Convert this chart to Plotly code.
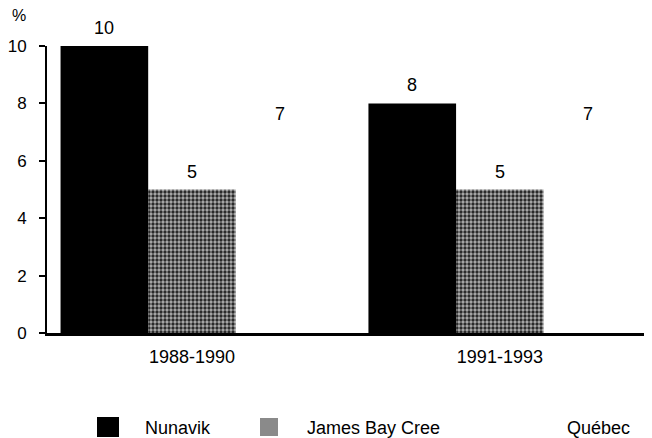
import plotly.graph_objects as go

periods = ["1988-1990", "1991-1993"]
nunavik = [10, 8]
james_bay_cree = [5, 5]
quebec = [7, 7]
y_ticks = [0, 2, 4, 6, 8, 10]

FONT = "Liberation Sans, Arial, sans-serif"
FS = 18

# page offset (default body margin of the html page)
OFF = 8
W, H = 652, 438
L, R, T, B = 39, 8, 38, 113
pw, ph = W - L - R, H - T - B


def px(x):  # page pixel -> paper x
    return (x - OFF - L) / pw


def py(y):  # page pixel -> paper y
    return (H - B - (y - OFF)) / ph


BARGAP = 0.146
series = [
    ("Nunavik", nunavik, dict(color="black", line=dict(width=0))),
    ("James Bay Cree", james_bay_cree,
     dict(color="#2a2a2a", line=dict(width=0),
          pattern=dict(shape=".", bgcolor="#b0b0b0", fgcolor="#2a2a2a",
                       size=4, solidity=0.55, fillmode="replace"))),
    ("Québec", quebec, dict(color="white", line=dict(width=0))),
]

fig = go.Figure()
n = len(series)
bw = (1 - BARGAP) / n
annotations = []
for i, (name, vals, marker) in enumerate(series):
    fig.add_bar(x=periods, y=vals, name=name, marker=marker)
    for j, v in enumerate(vals):
        annotations.append(dict(
            x=j + (i - (n - 1) / 2) * bw, y=v, xref="x", yref="y",
            text=str(v), showarrow=False, yanchor="bottom", yshift=6,
            font=dict(family=FONT, size=FS, color="black")))

shapes = [
    dict(type="rect", xref="paper", yref="paper",
         x0=px(97), x1=px(119), y0=py(437), y1=py(417),
         fillcolor="black", line=dict(width=0)),
    dict(type="rect", xref="paper", yref="paper",
         x0=px(260), x1=px(278), y0=py(436), y1=py(418),
         fillcolor="#8a8a8a", line=dict(width=0)),
]
annotations += [
    dict(text="%", xref="paper", yref="paper", x=px(19), y=py(16),
         xanchor="center", yanchor="middle",
         showarrow=False, font=dict(family=FONT, size=16, color="black")),
    dict(text="Nunavik", xref="paper", yref="paper", x=px(143), y=py(428),
         xanchor="left", yanchor="middle",
         showarrow=False, font=dict(family=FONT, size=FS, color="black")),
    dict(text="James Bay Cree", xref="paper", yref="paper", x=px(305), y=py(428),
         xanchor="left", yanchor="middle",
         showarrow=False, font=dict(family=FONT, size=FS, color="black")),
    dict(text="Québec", xref="paper", yref="paper", x=px(565), y=py(428),
         xanchor="left", yanchor="middle",
         showarrow=False, font=dict(family=FONT, size=FS, color="black")),
]

fig.update_layout(
    width=W, height=H,
    margin=dict(l=L, r=R, t=T, b=B, autoexpand=False),
    paper_bgcolor="white", plot_bgcolor="white",
    barmode="group", bargap=BARGAP, bargroupgap=0,
    showlegend=False,
    font=dict(family=FONT, size=FS, color="black"),
    shapes=shapes, annotations=annotations,
    xaxis=dict(range=[-0.471, 1.494], showgrid=False, zeroline=False,
               showline=True, linecolor="black", linewidth=3,
               ticks="", ticklabelstandoff=5, automargin=False,
               tickfont=dict(family=FONT, size=FS, color="black")),
    yaxis=dict(range=[0, 10], tickvals=y_ticks, showgrid=False, zeroline=False,
               showline=True, linecolor="black", linewidth=2,
               ticks="outside", ticklen=6, tickwidth=2, tickcolor="black",
               ticklabelstandoff=9, automargin=False,
               tickfont=dict(family=FONT, size=17, color="black")),
)

fig.write_html("out.html")
